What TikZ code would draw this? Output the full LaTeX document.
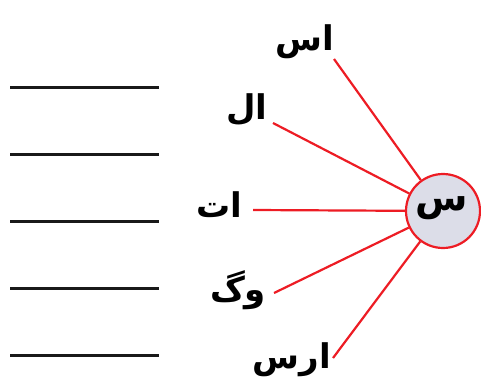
\documentclass[tikz,border=0pt]{standalone}
\usepackage{fontspec}
\TeXXeTstate=1
\newfontfamily\arabicfont[Script=Arabic]{DejaVu Sans}
\definecolor{linkred}{RGB}{237,28,36}
\definecolor{hubfill}{RGB}{220,221,232}
\begin{document}
\begin{tikzpicture}[x=1pt,y=-1pt,
  blank/.style={line width=3pt,black!90},
  link/.style={line width=2.2pt,linkred},
  hub/.style={circle,draw=linkred,line width=2.2pt,fill=hubfill,minimum size=74pt,inner sep=0pt},
  lbl/.style={inner sep=0pt,font=\arabicfont\bfseries\fontsize{34}{40}\selectfont}]
\useasboundingbox (0,0) rectangle (481,380);
% answer blanks
\foreach \i/\yy in {1/87,2/154,3/221,4/288,5/355}
  \draw[blank] (10,\yy) coordinate (bl\i) -- (159,\yy) coordinate (br\i);
% hub
\node[hub] (c) at (443,211) {};
\node[inner sep=0pt,font=\arabicfont\bfseries\fontsize{38}{44}\selectfont] (cl) at (442,208) {\beginR س\endR};
% labels
\node[lbl] (t1) at (305,42) {\beginR اس\endR};
\node[lbl] (t2) at (247,110) {\beginR ال\endR};
\node[lbl] (t3) at (219,205) {\beginR ات\endR};
\node[lbl] (t4) at (238,290) {\beginR وگ\endR};
\node[lbl] (t5) at (292,360) {\beginR ارس\endR};
% line starts
\coordinate (p1) at (334,59);
\coordinate (p2) at (273,123);
\coordinate (p3) at (253,210);
\coordinate (p4) at (274,293);
\coordinate (p5) at (333,358);
\foreach \i in {1,...,5}
  \draw[link] (p\i) -- (c);
\end{tikzpicture}
\end{document}
